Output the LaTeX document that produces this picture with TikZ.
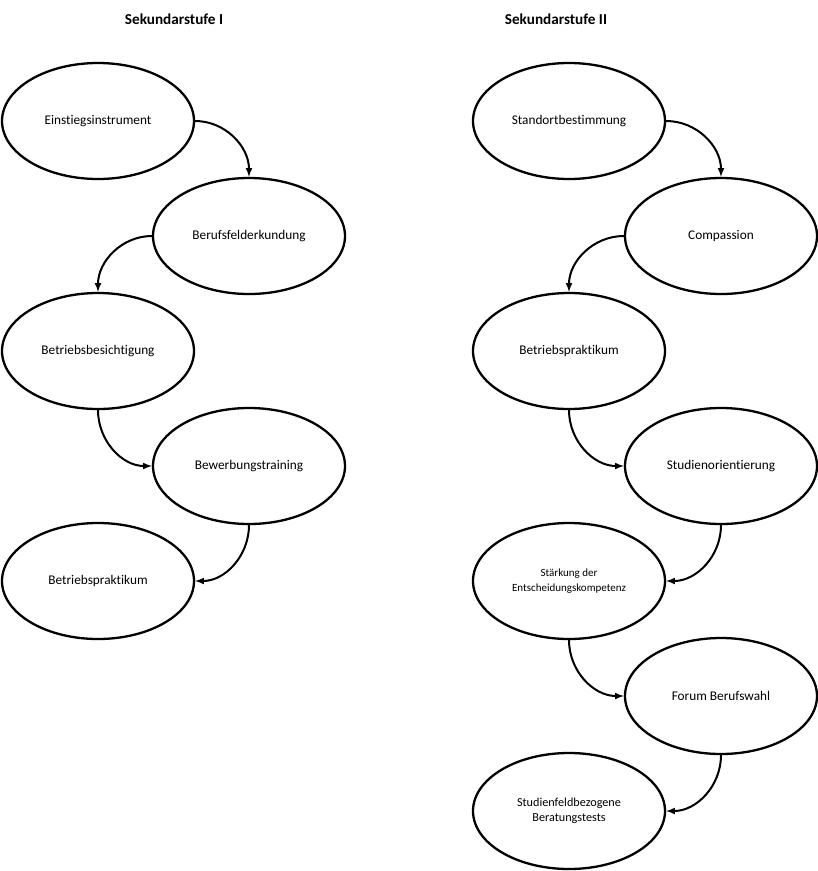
\documentclass[tikz,border=0pt]{standalone}
\usepackage{fontspec}
\setmainfont{Carlito}[Ligatures=NoCommon]
\usetikzlibrary{shapes, arrows, positioning}
\tikzstyle{etappe} = [draw, ellipse, line width=2.3pt, minimum width=192pt, minimum height=116pt, inner sep=0pt, align=center, font=\fontsize{13.3}{15}\selectfont]
\tikzstyle{titel} = [font=\fontsize{15.2}{18}\selectfont\bfseries]
\tikzstyle{pfeil} = [-latex, line width=2pt]

\begin{document}
\begin{tikzpicture}[x=1pt, y=1pt]
	\useasboundingbox (0,0) rectangle (818,-871);
	\node[titel] (sek1) at (174,-19) {Sekundarstufe I};
	\node[titel] (sek2) at (556,-19) {Sekundarstufe II};
	% Sekundarstufe I
	\node[etappe] (einstieg) at (98,-121) {Einstiegsinstrument};
	\node[etappe] (berufsfeld) at (249,-236) {Berufsfelderkundung};
	\node[etappe] (besichtigung) at (98,-351) {Betriebsbesichtigung};
	\node[etappe] (bewerbung) at (249,-466) {Bewerbungstraining};
	\node[etappe] (praktikum1) at (98,-581) {Betriebspraktikum};
	\draw[pfeil] (einstieg.east) to[out=0, in=90] (berufsfeld.north);
	\draw[pfeil] (berufsfeld.west) to[out=180, in=90] (besichtigung.north);
	\draw[pfeil] (besichtigung.south) to[out=-90, in=180] (bewerbung.west);
	\draw[pfeil] (bewerbung.south) to[out=-90, in=0] (praktikum1.east);
	% Sekundarstufe II
	\node[etappe] (standort) at (569,-121) {Standortbestimmung};
	\node[etappe] (compassion) at (721,-236) {Compassion};
	\node[etappe] (praktikum2) at (569,-351) {Betriebspraktikum};
	\node[etappe] (studien) at (721,-466) {Studienorientierung};
	\node[etappe, font=\fontsize{11}{15}\selectfont] (staerkung) at (569,-581) {Stärkung der\\Entscheidungskompetenz};
	\node[etappe, font=\fontsize{12.2}{14.5}\selectfont] (tests) at (569,-811) {Studienfeldbezogene\\Beratungstests};
	\node[etappe] (forum) at (721,-696) {Forum Berufswahl};
	\draw[pfeil] (standort.east) to[out=0, in=90] (compassion.north);
	\draw[pfeil] (compassion.west) to[out=180, in=90] (praktikum2.north);
	\draw[pfeil] (praktikum2.south) to[out=-90, in=180] (studien.west);
	\draw[pfeil] (studien.south) to[out=-90, in=0] (staerkung.east);
	\draw[pfeil] (staerkung.south) to[out=-90, in=180] (forum.west);
	\draw[pfeil] (forum.south) to[out=-90, in=0] (tests.east);
\end{tikzpicture}
\end{document}
